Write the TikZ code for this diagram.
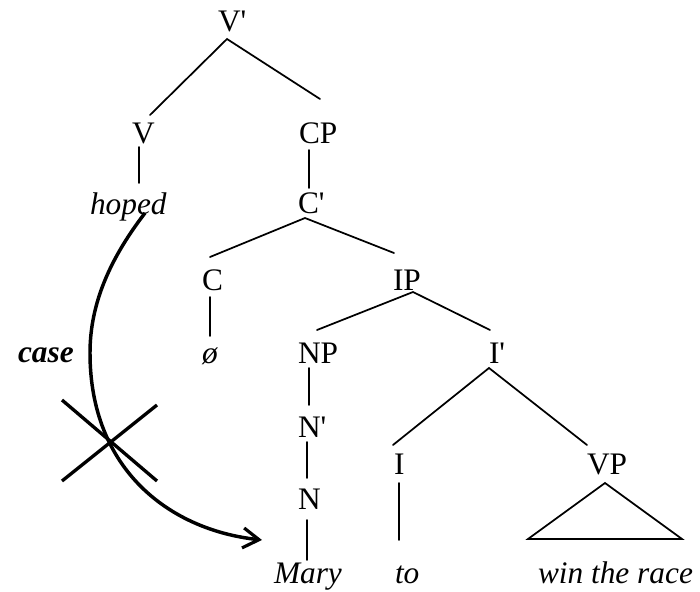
\documentclass[tikz,border=0pt]{standalone}
\usepackage{fontspec}
\setmainfont{Liberation Serif}[Ligatures=TeXOff]
\usetikzlibrary{arrows.meta}
\begin{document}
\begin{tikzpicture}[x=0.75pt,y=-0.75pt,
  lbl/.style={anchor=base west,inner sep=0pt,outer sep=0pt,font=\fontsize{23.5}{28}\selectfont},
  wrd/.style={lbl,font=\fontsize{23.5}{28}\selectfont\itshape},
  branch/.style={line width=1.3pt,line cap=round},
  thick arrow/.style={line width=2.6pt,-{Straight Barb[length=12pt,width=15pt,line width=2.4pt]}},
  crossline/.style={line width=2.5pt}]
\useasboundingbox (0,0) rectangle (700,592);
% labels
\node[lbl] (Vbar) at (218,32) {V'};
\node[lbl] (V) at (132,143) {V};
\node[lbl] (CP) at (299,143) {CP};
\node[wrd] (hoped) at (90,214) {hoped};
\node[lbl] (Cbar) at (298,213) {C'};
\node[lbl] (C) at (202,290) {C};
\node[lbl] (IP) at (393,290) {IP};
\node[wrd] (empty) at (202,363) {ø};
\node[lbl] (NP) at (298,363) {NP};
\node[lbl] (Ibar) at (489,363) {I'};
\node[lbl] (Nbar) at (298,437) {N'};
\node[lbl] (N) at (298,509) {N};
\node[lbl] (I) at (394,474) {I};
\node[lbl] (VP) at (587,474) {VP};
\node[wrd] (Mary) at (274,583) {Mary};
\node[wrd] (to) at (395,583) {to};
\node[wrd] (win) at (538,583) {win the race};
\node[lbl,font=\fontsize{23.5}{28}\selectfont\bfseries\itshape] (case) at (18,362) {case};
% branches
\draw[branch] ([shift={(18,-28)}]V.base west) -- ([shift={(9,7)}]Vbar.base west) -- ([shift={(21,-44)}]CP.base west);
\draw[branch] ([shift={(7,4)}]V.base west) -- ([shift={(49,-31)}]hoped.base west);
\draw[branch] ([shift={(10,7)}]CP.base west) -- ([shift={(11,-25)}]Cbar.base west);
\draw[branch] ([shift={(8,-33)}]C.base west) -- ([shift={(7,5)}]Cbar.base west) -- ([shift={(1,-37)}]IP.base west);
\draw[branch] ([shift={(8,7)}]C.base west) -- ([shift={(8,-27)}]empty.base west);
\draw[branch] ([shift={(19,-33)}]NP.base west) -- ([shift={(20,2)}]IP.base west) -- ([shift={(1,-33)}]Ibar.base west);
\draw[branch] ([shift={(11,5)}]NP.base west) -- ([shift={(11,-32)}]Nbar.base west);
\draw[branch] ([shift={(9,5)}]Nbar.base west) -- ([shift={(9,-31)}]N.base west);
\draw[branch] ([shift={(9,11)}]N.base west) -- ([shift={(33,-23)}]Mary.base west);
\draw[branch] ([shift={(-1,-29)}]I.base west) -- ([shift={(0,5)}]Ibar.base west) -- ([shift={(0,-29)}]VP.base west);
\draw[branch] ([shift={(5,9)}]I.base west) -- ([shift={(4,-43)}]to.base west);
\draw[branch,line join=miter] ([shift={(18,9)}]VP.base west) -- ([shift={(144,-44)}]win.base west) -- ([shift={(-10,-44)}]win.base west) -- cycle;
% case arrow
\coordinate (bend) at (90,353);
\draw[thick arrow] ([shift={(55,-1)}]hoped.base west) .. controls (105,265) and (90,310) .. (bend) .. controls (90,470) and (170,530) .. ([shift={(-12,-43)}]Mary.base west);
% cross
\coordinate (X) at (110,442);
\draw[crossline] ([shift={(-48,-42)}]X) -- ([shift={(47,39)}]X);
\draw[crossline] ([shift={(-48,39)}]X) -- ([shift={(47,-37)}]X);
\end{tikzpicture}
\end{document}
